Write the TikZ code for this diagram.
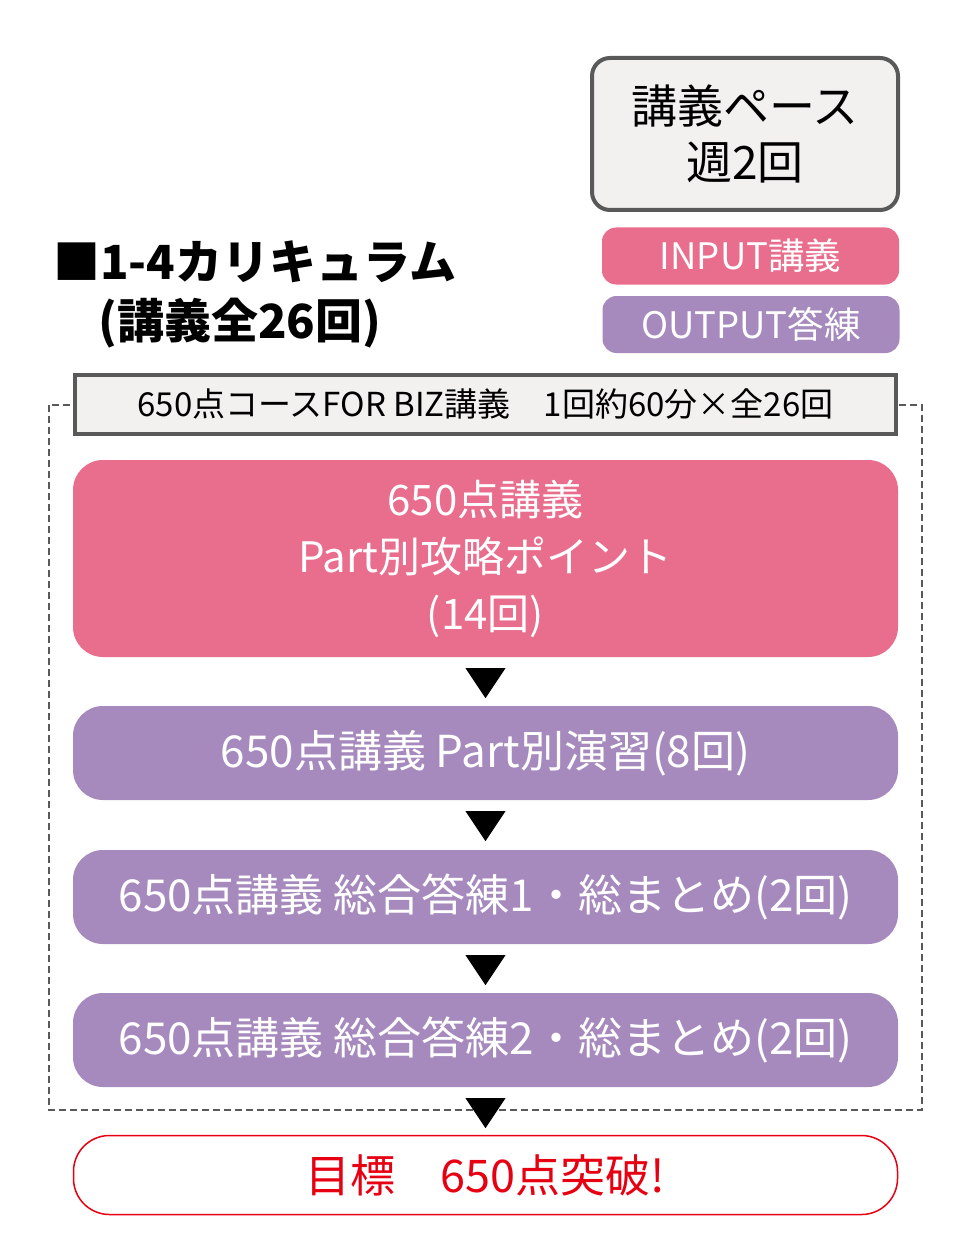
\documentclass[tikz,border=0pt]{standalone}
\usepackage{fontspec}
\setmainfont{Noto Sans CJK JP}
\usetikzlibrary{positioning}
\definecolor{pinkc}{HTML}{E96D8C}
\definecolor{purplec}{HTML}{A689BD}
\definecolor{paperc}{HTML}{F2F1F0}
\definecolor{framec}{HTML}{595959}
\definecolor{goalc}{HTML}{E60012}

\begin{document}
\begin{tikzpicture}[x=1pt,y=-1pt,
    pacebox/.style={draw=framec,line width=4pt,fill=paperc,rounded corners=18pt,
      minimum width=306pt,minimum height=152pt,align=center,
      font=\fontsize{46}{56}\selectfont},
    tagbox/.style={rounded corners=14pt,minimum width=297pt,minimum height=57pt,
      text=white,inner sep=0pt,font=\fontsize{36.5}{40}\selectfont},
    headbox/.style={draw=framec,line width=4pt,fill=paperc,minimum width=821pt,
      minimum height=59pt,inner sep=0pt,font=\fontsize{33}{36}\selectfont},
    lessonbox/.style={rounded corners=30pt,minimum width=825pt,minimum height=94pt,
      text=white,inner sep=0pt,align=center,font=\fontsize{44}{57}\selectfont},
    goalbox/.style={draw=goalc,line width=1.5pt,fill=white,rounded corners=36pt,
      minimum width=824pt,minimum height=79pt,text=goalc,inner sep=0pt,
      font=\fontsize{45}{50}\selectfont},
    titletext/.style={anchor=west,inner sep=0pt,font=\fontsize{47}{54}\selectfont\bfseries}]
  \useasboundingbox (0,0) rectangle (960,1257);
  \fill[white] (0,0) rectangle (960,1257);

  % legend at the top
  \node[pacebox] (pace) at (745,134) {講義ペース\\週2回};
  \node[tagbox,fill=pinkc] (intag) at (750.5,256) {INPUT講義};
  \node[tagbox,fill=purplec] (outtag) at (751,324.5) {OUTPUT答練};

  % title
  \node[titletext] (title) at (53,262) {■1-4カリキュラム};
  \node[titletext] (subtitle) at (98,323) {(講義全26回)};

  % course frame
  \draw[framec,line width=2.2pt,dash pattern=on 7pt off 4pt] (49,405) rectangle (922,1110);
  \node[headbox] (head) at (485.5,404.5) {650点コースFOR BIZ講義　1回約60分×全26回};

  \node[lessonbox,fill=pinkc,minimum height=197pt,font=\fontsize{42}{57}\selectfont] (part) at (485.5,558.5)
    {650点講義\\Part別攻略ポイント\\(14回)};
  \node[lessonbox,fill=purplec] (drill) at (485.5,753) {650点講義 Part別演習(8回)};
  \node[lessonbox,fill=purplec] (sum1) at (485.5,897) {650点講義 総合答練1・総まとめ(2回)};
  \node[lessonbox,fill=purplec] (sum2) at (485.5,1040) {650点講義 総合答練2・総まとめ(2回)};
  \node[goalbox] (goal) at (485.5,1175) {目標　650点突破!};

  % arrows
  \foreach \a in {part,drill,sum1,sum2}
    \fill[black] (\a.south) ++(-20,11) -- ++(40,0) -- ++(-20,30) -- cycle;
\end{tikzpicture}
\end{document}
